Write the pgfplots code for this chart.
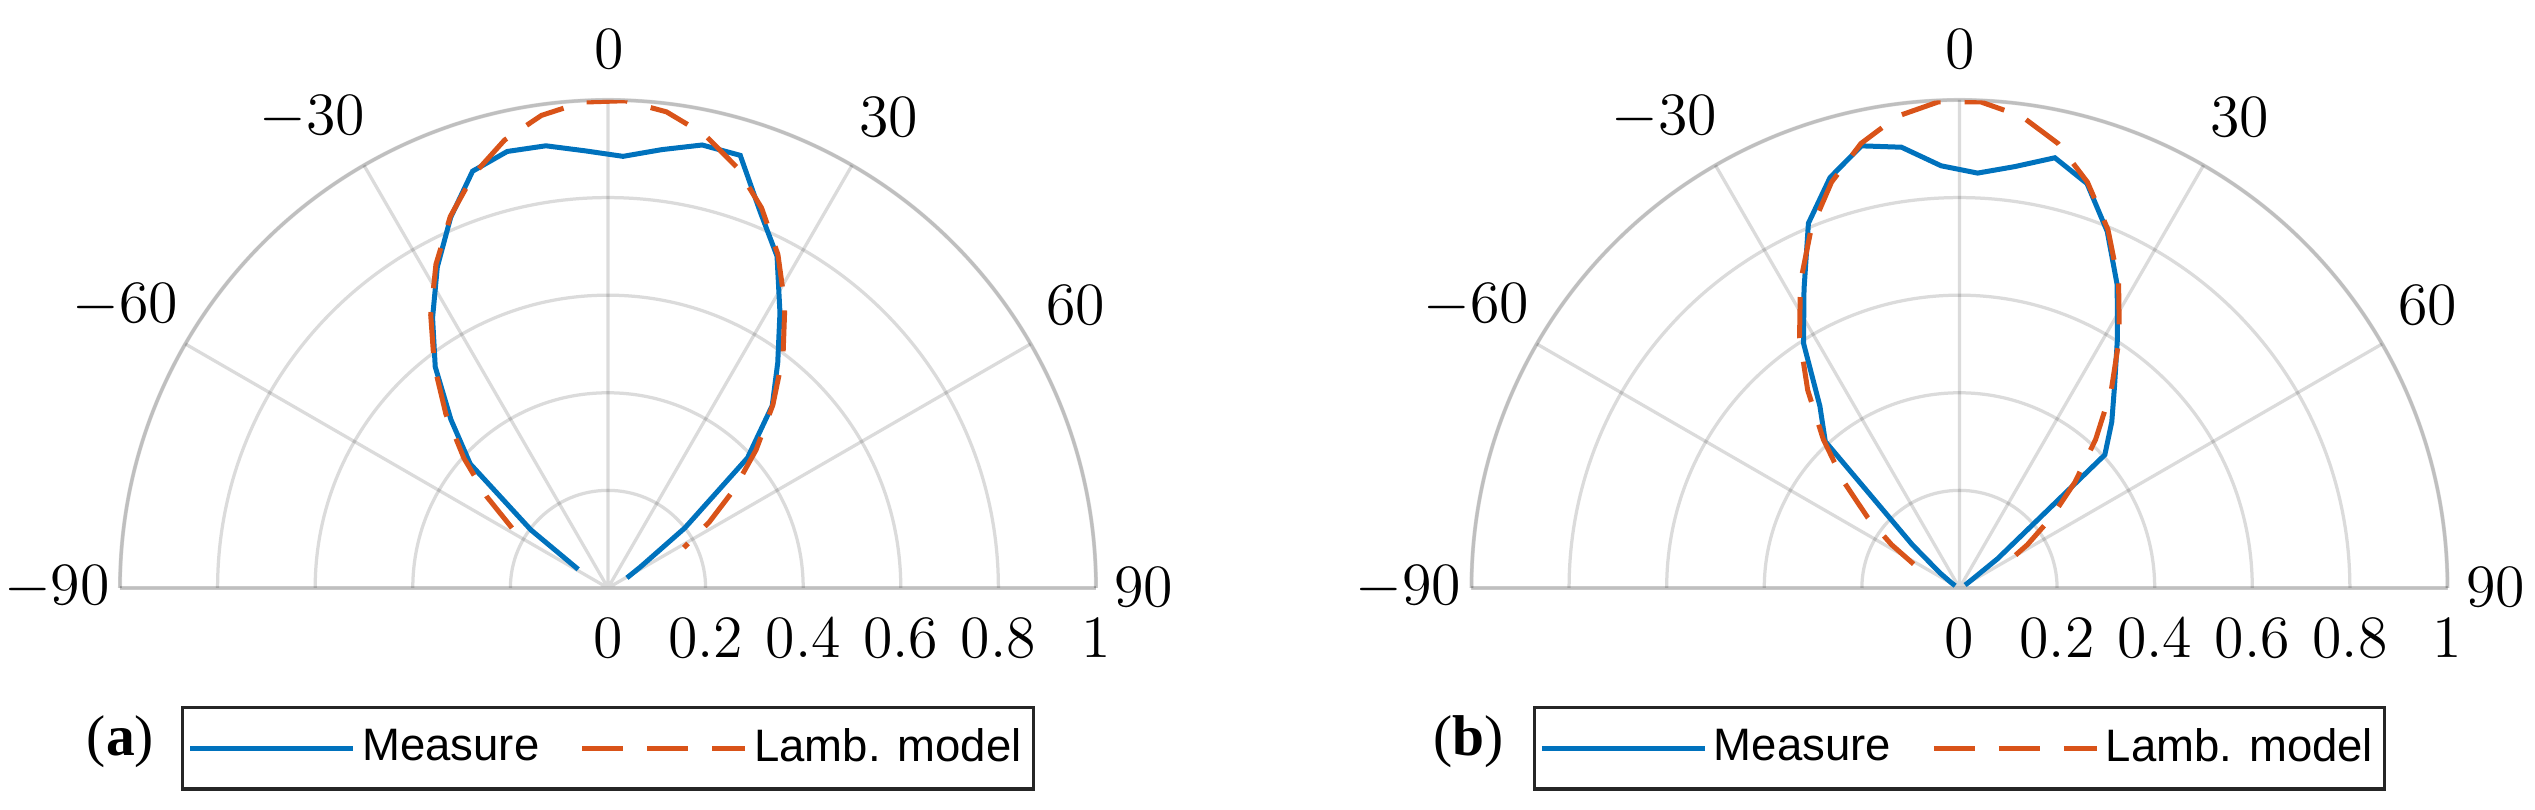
\documentclass[border=0pt]{standalone}
\usepackage{fontspec}
\usepackage{pgfplots}
\usepackage{pgfplotstable}
\pgfplotsset{compat=1.18}
\usepgfplotslibrary{polar}
\newfontfamily\legfont{Liberation Sans}
\newfontfamily\capfont{Liberation Serif}
\definecolor{mblue}{RGB}{0,114,189}
\definecolor{mred}{RGB}{217,83,25}

% (a) measured pattern and Lambertian fit
\pgfplotstableread{
ang r
-58 0.072
-53 0.198
-48 0.380
-43 0.472
-38 0.575
-33 0.660
-28 0.745
-23 0.825
-18 0.898
-13 0.918
-8 0.915
-3 0.897
2 0.885
7 0.905
12 0.928
17 0.927
22 0.832
27 0.763
32 0.665
37 0.578
42 0.503
47 0.391
52 0.200
57 0.080
62 0.044
}\measA
\pgfplotstableread{
ang r
-58 0.232
-53 0.311
-48 0.397
-43 0.487
-38 0.578
-33 0.667
-28 0.751
-23 0.827
-18 0.891
-13 0.942
-8 0.978
-3 0.997
2 0.999
7 0.983
12 0.950
17 0.902
22 0.840
27 0.767
32 0.684
37 0.596
42 0.505
47 0.415
52 0.328
57 0.247
62 0.176
}\lambA
% (b)
\pgfplotstableread{
ang r
-62.5 0.010
-57.5 0.020
-52.5 0.050
-47.5 0.131
-42.5 0.407
-37.5 0.470
-32.5 0.595
-27.5 0.690
-22.5 0.809
-17.5 0.882
-12.5 0.928
-7.5 0.911
-2.5 0.866
2.5 0.851
7.5 0.871
12.5 0.903
17.5 0.869
22.5 0.791
27.5 0.700
32.5 0.602
37.5 0.522
42.5 0.462
47.5 0.404
52.5 0.098
57.5 0.025
62.5 0.013
}\measB
\pgfplotstableread{
ang r
-62.5 0.106
-57.5 0.165
-52.5 0.237
-47.5 0.321
-42.5 0.413
-37.5 0.511
-32.5 0.610
-27.5 0.706
-22.5 0.795
-17.5 0.872
-12.5 0.933
-7.5 0.975
-2.5 0.997
2.5 0.997
7.5 0.975
12.5 0.933
17.5 0.872
22.5 0.795
27.5 0.706
32.5 0.610
37.5 0.511
42.5 0.413
47.5 0.321
52.5 0.237
57.5 0.165
62.5 0.106
}\lambB

\pgfplotsset{
  halfpolar/.style={
    scale only axis, width=195.2pt, height=195.2pt,
    anchor=origin,
    xmin=0, xmax=180, ymin=0, ymax=1,
    xtick={0,30,...,180},
    xticklabels={$90$,$60$,$30$,$0$,$-30$,$-60$,$-90$},
    ytick={0,0.2,0.4,0.6,0.8,1},
    yticklabels={$0$,$0.2$,$0.4$,$0.6$,$0.8$,$1$},
    grid=major,
    major grid style={black, opacity=0.14, line width=0.65pt},
    axis line style={black, opacity=0.13, line width=0.8pt},
    major tick length=0pt,
    tick label style={font=\fontsize{11.6}{13}\selectfont},
    % angle labels: centred a little outside the rim, the negative ones pushed left
    xticklabel style={anchor=center,
      xshift={(cos(\tick)<0 ? -1 : 1)*9.6*pow(abs(cos(\tick))+0.00001,0.4)-3*(\tick>91)},
      yshift={10.2*pow(abs(sin(\tick))+0.00001,0.4)}},
    yticklabel style={anchor=north, yshift=-2.6pt},
    legend columns=2,
    legend image code/.code={\draw[##1] (0pt,0pt) -- (32.6pt,0pt);},
    legend style={at={(0.5,0)}, anchor=north, yshift=-23.6pt,
      draw=black!85, line width=0.65pt, inner xsep=1pt, inner ysep=2.8pt,
      font=\legfont\fontsize{9.1}{11}\selectfont,
      nodes={inner sep=1.3pt},
      /tikz/every even column/.append style={column sep=6.8pt}},
  },
  measure/.style={mblue, line width=1pt},
  lamb/.style={mred, line width=1pt, dash pattern=on 8.2pt off 4.8pt},
}

\begin{document}
\begin{tikzpicture}
\useasboundingbox (0,0) rectangle (507pt,162pt);

\begin{polaraxis}[halfpolar, at={(121.6pt,44.4pt)}]
\addplot[measure] table[x expr=90-\thisrow{ang}, y=r] {\measA};
\addplot[lamb] table[x expr=90-\thisrow{ang}, y=r] {\lambA};
\legend{Measure, Lamb. model}
\end{polaraxis}

\begin{polaraxis}[halfpolar, at={(391.9pt,44.4pt)}]
\addplot[measure] table[x expr=90-\thisrow{ang}, y=r] {\measB};
\addplot[lamb] table[x expr=90-\thisrow{ang}, y=r] {\lambB};
\legend{Measure, Lamb. model}
\end{polaraxis}

\node[anchor=base east, inner sep=0pt, font=\capfont\fontsize{11.5}{13}\selectfont] at (31pt,10.9pt) {(\textbf{a})};
\node[anchor=base east, inner sep=0pt, font=\capfont\fontsize{11.5}{13}\selectfont] at (301pt,10.9pt) {(\textbf{b})};
\end{tikzpicture}
\end{document}
